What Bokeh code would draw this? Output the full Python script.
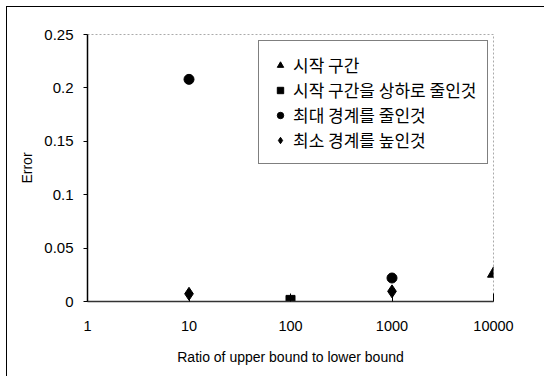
from bokeh.plotting import figure
from bokeh.models import (Legend, LegendItem, FixedTicker, CustomJSTickFormatter,
                          Range1d)
from bokeh.embed import file_html
from bokeh.resources import INLINE

# ---- data ----
series_names = ["시작 구간", "시작 구간을 상하로 줄인것", "최대 경계를 줄인것", "최소 경계를 높인것"]
tri_x = [10000]
tri_y = [0.026]
sq_x = [100]
sq_y = [0.0015]
circ_x = [10, 1000]
circ_y = [0.208, 0.022]
dia_x = [10, 1000]
dia_y = [0.0072, 0.0095]

x_ticks = [1, 10, 100, 1000, 10000]
y_ticks = [0, 0.05, 0.1, 0.15, 0.2, 0.25]
x_title = "Ratio of upper bound to lower bound"
y_title = "Error"

p = figure(width=538, height=370, output_backend="svg", toolbar_location=None,
           x_axis_type="log", x_range=Range1d(1, 10000), y_range=Range1d(0, 0.25),
           min_border_left=80, min_border_right=52, min_border_top=27, min_border_bottom=76)
p.styles = {"border-left": "1px solid black", "border-top": "1px solid black",
            "margin-left": "6px", "margin-top": "6px"}

p.background_fill_color = "white"
p.border_fill_color = "white"
p.outline_line_color = "#aaaaaa"
p.outline_line_dash = "2 2"
p.xgrid.visible = False
p.ygrid.visible = False

tick_font = "Liberation Sans"

# x axis
xa = p.xaxis[0]
xa.ticker = FixedTicker(ticks=x_ticks, minor_ticks=[])
xa.formatter = CustomJSTickFormatter(code="return Math.round(tick).toString();")
xa.major_tick_in = 8
xa.major_tick_out = 0
xa.minor_tick_line_color = None
xa.axis_line_color = "#333333"
xa.axis_line_width = 1.5
xa.major_tick_line_color = "black"
xa.major_label_text_font = tick_font
xa.major_label_text_font_size = "14.5px"
xa.major_label_text_color = "black"
xa.major_label_standoff = 19
xa.axis_label = x_title
xa.axis_label_text_font = tick_font
xa.axis_label_text_font_size = "14px"
xa.axis_label_text_font_style = "normal"
xa.axis_label_text_color = "black"
xa.axis_label_standoff = 15

# y axis
ya = p.yaxis[0]
ya.ticker = FixedTicker(ticks=y_ticks, minor_ticks=[])
ya.formatter = CustomJSTickFormatter(code="return parseFloat(tick.toFixed(2)).toString();")
ya.major_tick_in = 0
ya.major_tick_out = 4
ya.minor_tick_line_color = None
ya.axis_line_color = "black"
ya.axis_line_width = 1.5
ya.major_label_text_font = tick_font
ya.major_label_text_font_size = "15px"
ya.major_label_text_color = "black"
ya.major_label_standoff = 10
ya.axis_label = y_title
ya.axis_label_text_font = tick_font
ya.axis_label_text_font_size = "14px"
ya.axis_label_text_font_style = "normal"
ya.axis_label_text_color = "black"
ya.axis_label_standoff = 6

r_tri = p.scatter(tri_x, tri_y, marker="triangle", size=12, color="black")
r_sq = p.scatter(sq_x, sq_y, marker="square", size=9, color="black")
r_circ = p.scatter(circ_x, circ_y, marker="circle", size=10, color="black")
r_dia = p.scatter(dia_x, dia_y, marker="diamond", size=13, color="black")

legend = Legend(items=[LegendItem(label=series_names[0], renderers=[r_tri]),
                       LegendItem(label=series_names[1], renderers=[r_sq]),
                       LegendItem(label=series_names[2], renderers=[r_circ]),
                       LegendItem(label=series_names[3], renderers=[r_dia])],
                location=(171, 137))
legend.label_text_font = "Noto Sans CJK KR"
legend.label_text_font_size = "17px"
legend.label_text_color = "black"
legend.border_line_color = "black"
legend.border_line_width = 1.2
legend.background_fill_alpha = 1
legend.padding = 11
legend.spacing = 0
legend.label_height = 20
legend.glyph_height = 16
legend.glyph_width = 20
legend.label_standoff = 3
legend.margin = 0
p.add_layout(legend, "center")

open("out.html", "w").write(file_html(p, INLINE))
